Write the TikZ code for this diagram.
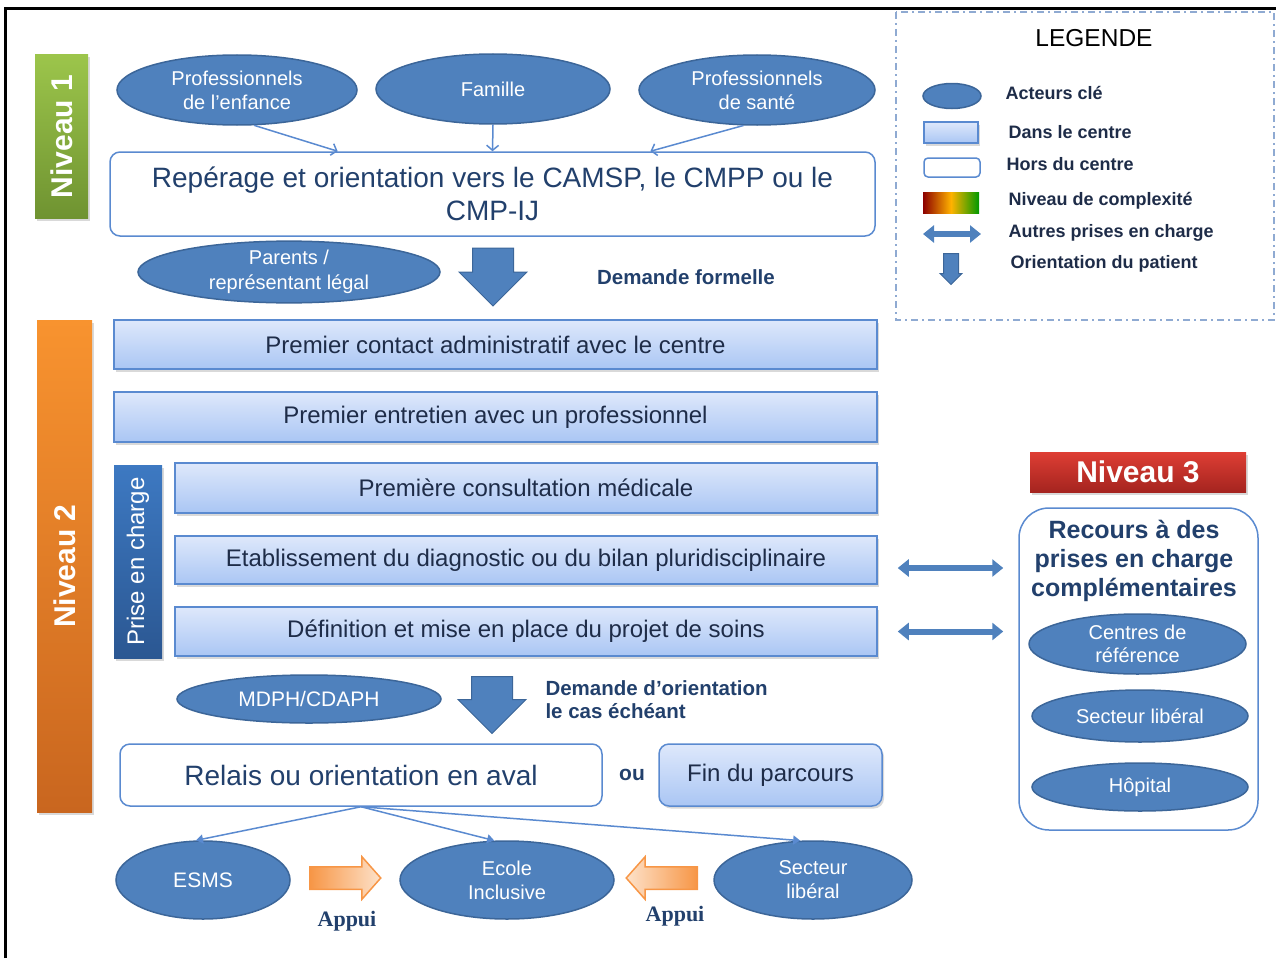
\documentclass[tikz,border=0pt]{standalone}
\usepackage{fontspec}
\setmainfont{Liberation Sans}
\newfontfamily\appuifont{Liberation Serif}
\usetikzlibrary{shapes.geometric,shapes.arrows,arrows.meta,shadows,calc}

% Couleurs
\definecolor{acteurbleu}{HTML}{4F81BD}
\definecolor{acteurbord}{HTML}{3C6699}
\definecolor{cadrebleu}{HTML}{5A8AD0}
\definecolor{centrehaut}{HTML}{DEE8FB}
\definecolor{centrebas}{HTML}{AAC6F4}
\definecolor{textefonce}{HTML}{1E2C48}
\definecolor{textebleu}{HTML}{22406C}
\definecolor{vertclair}{HTML}{9CC54B}
\definecolor{vertfonce}{HTML}{6F9331}
\definecolor{orangeclair}{HTML}{F8932F}
\definecolor{orangefonce}{HTML}{C9661F}
\definecolor{rougeclair}{HTML}{DE3E34}
\definecolor{rougefonce}{HTML}{A5241F}
\definecolor{priseclair}{HTML}{3D79C2}
\definecolor{prisefonce}{HTML}{2B5792}
\definecolor{appuiclair}{HTML}{FDE2CA}
\definecolor{appuifonce}{HTML}{F79646}
\definecolor{legendetrait}{HTML}{8FAAD2}

\tikzset{
  acteur/.style={ellipse, draw=acteurbord, fill=acteurbleu, line width=1.5pt,
    text=white, align=center, inner sep=0pt, font=\fontsize{20}{24}\selectfont},
  ombre/.style={drop shadow={shadow xshift=2pt, shadow yshift=-2.5pt, opacity=.3}},
  dedans/.style={rectangle, draw=cadrebleu, line width=1.5pt, top color=centrehaut,
    bottom color=centrebas, ombre, text=textefonce, inner sep=0pt,
    font=\fontsize{24}{28}\selectfont},
  dehors/.style={rectangle, rounded corners=10pt, draw=cadrebleu, line width=1.5pt,
    fill=white, text=textebleu, inner sep=0pt, font=\fontsize{28}{33}\selectfont},
  niveau/.style={rectangle, inner sep=0pt, ombre},
  niveautexte/.style={text=white, font=\bfseries\fontsize{30}{34}\selectfont},
  flechebas/.style={single arrow, shape border rotate=270, fill=acteurbleu,
    draw=acteurbord, line width=1pt, inner xsep=20pt, inner ysep=0pt, anchor=tail,
    single arrow head extend=13.5pt, single arrow tip angle=90, minimum width=67pt},
  appui/.style={single arrow, draw=appuifonce, line width=1.5pt, inner xsep=0pt,
    inner ysep=10.5pt, single arrow head extend=10pt, single arrow tip angle=97,
    minimum width=41pt, minimum height=71pt, anchor=tail},
  fleche/.style={draw=cadrebleu, line width=1.5pt, -{Straight Barb[length=5pt,width=12pt]}},
  fine/.style={draw=cadrebleu, line width=1.5pt, -{Triangle[length=7pt,width=9pt]}},
  autres/.style={draw=acteurbleu, line width=6pt,
    {Triangle[length=11pt,width=17pt]}-{Triangle[length=11pt,width=17pt]}},
  demande/.style={text=textebleu, font=\bfseries\fontsize{20.5}{23}\selectfont, align=left},
  legtexte/.style={anchor=west, text=textefonce, font=\bfseries\fontsize{18}{20}\selectfont},
}

\begin{document}
\begin{tikzpicture}[x=1pt, y=-1pt]

    % Page frame
    \useasboundingbox (0,0) rectangle (1276,958);
    \draw[line width=3pt] (5,958) -- (5,8.5) -- (1276,8.5);

    % Niveau 1
    \node[niveau, top color=vertclair, bottom color=vertfonce,
          minimum width=53pt, minimum height=163pt] (niv1) at (61.5,136.5) {};
    \node[niveautexte, rotate=90] at (niv1) {Niveau 1};

    % Actors of the screening
    \node[acteur, minimum width=240pt, minimum height=70pt] (enfance) at (237,90) {Professionnels\\de l'enfance};
    \node[acteur, minimum width=234pt, minimum height=70pt] (famille) at (493,89) {Famille};
    \node[acteur, minimum width=236pt, minimum height=70pt] (sante) at (757,90) {Professionnels\\de santé};

    \node[dehors, align=center, minimum width=765pt, minimum height=84pt] (reperage) at (492.5,194)
        {Repérage et orientation vers le CAMSP, le CMPP ou le\\CMP-IJ};

    \draw[fleche] (enfance.-64) -- ($(reperage.north west)!0.298!(reperage.north east)$);
    \draw[fleche] (famille.south) -- (reperage.north);
    \draw[fleche] (sante.-111) -- ($(reperage.north west)!0.706!(reperage.north east)$);

    % Formal request
    \node[acteur, minimum width=302pt, minimum height=50pt, font=\fontsize{20}{25}\selectfont] (parents) at (289,272) {Parents /\\représentant légal};
    \node[flechebas, minimum height=58pt] (formelle) at (493,247.5) {};
    \node[demande] (formelletxt) at (686,277) {Demande formelle};

    % Niveau 2
    \node[niveau, top color=orangeclair, bottom color=orangefonce,
          minimum width=55pt, minimum height=492pt] (niv2) at (64.5,566) {};
    \node[niveautexte, rotate=90] at (niv2) {Niveau 2};

    \node[dedans, minimum width=763pt, minimum height=49pt] (contact) at (495.5,344.5) {Premier contact administratif avec le centre};
    \node[dedans, minimum width=763pt, minimum height=50pt] (entretien) at (495.5,417) {Premier entretien avec un professionnel};

    \node[niveau, top color=priseclair, bottom color=prisefonce,
          minimum width=48pt, minimum height=193pt] (prise) at (138,561.5) {};
    \node[rotate=90, text=white, font=\fontsize{24}{28}\selectfont] at (prise) {Prise en charge};

    \node[dedans, minimum width=702pt, minimum height=50pt] (consult) at (526,488) {Première consultation médicale};
    \node[dedans, minimum width=702pt, minimum height=48pt] (diag) at (526,560) {Etablissement du diagnostic ou du bilan pluridisciplinaire};
    \node[dedans, minimum width=702pt, minimum height=49pt] (projet) at (526,631.5) {Définition et mise en place du projet de soins};

    % Orientation request
    \node[acteur, minimum width=264pt, minimum height=48pt, font=\fontsize{21}{24}\selectfont] (mdph) at (309,699) {MDPH/CDAPH};
    \node[flechebas, minimum height=57pt] (orient) at (492,676) {};
    \node[demande, anchor=west] (orienttxt) at (542,700) {Demande d'orientation\\le cas échéant};

    % Downstream
    \node[dehors, minimum width=482pt, minimum height=62pt] (relais) at (361,775) {Relais ou orientation en aval};
    \node[text=textebleu, font=\bfseries\fontsize{21}{24}\selectfont] (ou) at (632,775) {ou};
    \node[dedans, rounded corners=10pt, minimum width=223pt, minimum height=62pt] (fin) at (770.5,775) {Fin du parcours};

    \node[acteur, minimum width=174pt, minimum height=78pt, font=\fontsize{21}{24}\selectfont] (esms) at (203,880) {ESMS};
    \node[acteur, minimum width=214pt, minimum height=78pt] (ecole) at (507,880) {Ecole\\Inclusive};
    \node[acteur, minimum width=198pt, minimum height=78pt] (secteur) at (813,880) {Secteur\\libéral};

    \draw[fine] (relais.south) -- (esms.100);
    \draw[fine] (relais.south) -- (ecole.108);
    \draw[fine] (relais.south) -- (secteur.108);

    \node[appui, left color=appuifonce, right color=appuiclair] (appui1) at (309,878) {};
    \node[appui, shape border rotate=180, left color=appuiclair, right color=appuifonce] (appui2) at (698,878) {};
    \node[text=textebleu, font=\appuifont\bfseries\fontsize{22}{24}\selectfont] at (347,921) {Appui};
    \node[text=textebleu, font=\appuifont\bfseries\fontsize{22}{24}\selectfont] at (675,916) {Appui};

    % Niveau 3
    \node[niveau, top color=rougeclair, bottom color=rougefonce,
          minimum width=216pt, minimum height=40pt] (niv3) at (1138,472) {};
    \node[niveautexte] at (niv3) {Niveau 3};

    \node[dehors, rounded corners=30pt, minimum width=239pt, minimum height=322pt] (recours) at (1138.5,669) {};
    \node[text=textebleu, align=center, font=\bfseries\fontsize{25}{29}\selectfont] (recourstxt) at (1134,561)
        {Recours à des\\prises en charge\\complémentaires};
    \node[acteur, minimum width=217pt, minimum height=60pt, font=\fontsize{20}{23}\selectfont] (reference) at (1137.5,644) {Centres de\\référence};
    \node[acteur, minimum width=216pt, minimum height=52pt] (liberal) at (1140,716) {Secteur libéral};
    \node[acteur, minimum width=216pt, minimum height=48pt] (hopital) at (1140,787) {Hôpital};

    \draw[autres, shorten <=20pt, shorten >=15pt] ([yshift=-8pt]diag.east) -- ([yshift=-8pt]diag.east -| recours.west);
    \draw[autres, shorten <=20pt, shorten >=15pt] (projet.east) -- (projet.east -| recours.west);

    % Legend
    \draw[legendetrait, line width=1.3pt, dash pattern=on 7pt off 4pt on 2pt off 4pt] (896,12) rectangle (1274,320);
    \node[text=black, font=\fontsize{24.5}{28}\selectfont] (legende) at (1094,38) {LEGENDE};

    \node[acteur, minimum width=58pt, minimum height=25pt] (legacteur) at (952,96) {};
    \node[legtexte] at (1002,93) {Acteurs clé};
    \node[dedans, minimum width=54pt, minimum height=21pt] (legdedans) at (951,132.5) {};
    \node[legtexte] at (1005,132) {Dans le centre};
    \node[dehors, rounded corners=4pt, minimum width=56pt, minimum height=19pt] (legdehors) at (952,167.5) {};
    \node[legtexte] at (1003,164) {Hors du centre};
    \node[rectangle, inner sep=0pt, minimum width=56pt, minimum height=21pt,
          left color=red!55!black, right color=green!60!black, middle color=orange!60!yellow] (complexite) at (951,202.5) {};
    \node[legtexte] at (1005,201) {Niveau de complexité};
    \coordinate (autresA) at (923,234);
    \coordinate (autresB) at (981,234);
    \draw[autres] (autresA) -- (autresB);
    \node[legtexte] at (1005,233) {Autres prises en charge};
    \node[flechebas, inner xsep=7pt, single arrow head extend=3.5pt, minimum width=21pt, minimum height=31pt] (legorient) at (951,253) {};
    \node[legtexte] at (1007,264) {Orientation du patient};

\end{tikzpicture}
\end{document}
